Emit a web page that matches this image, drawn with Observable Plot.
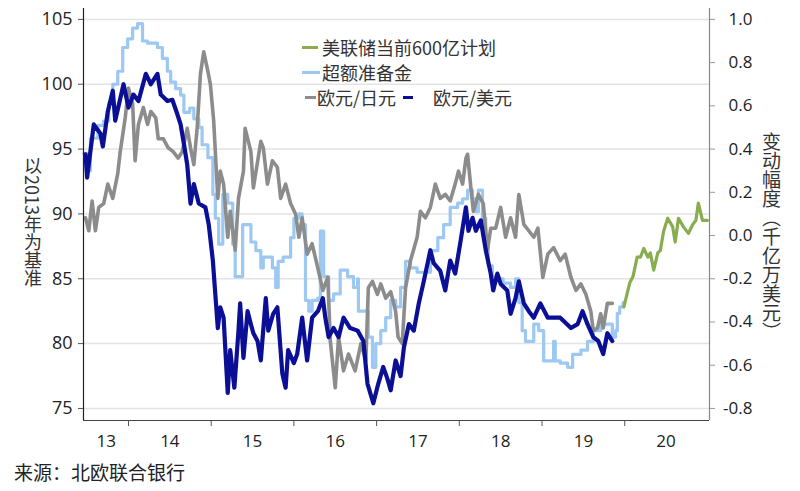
<!DOCTYPE html>
<html><head><meta charset="utf-8">
<script src="https://cdn.jsdelivr.net/npm/d3@7"></script>
<script src="https://cdn.jsdelivr.net/npm/@observablehq/plot@0.6"></script>
<style>
body{margin:0;background:#fff;}
#wrap{position:relative;width:800px;height:491px;overflow:hidden;font-family:"Noto Sans CJK SC",sans-serif;}
.leg{position:absolute;font-size:18px;color:#333;white-space:nowrap;line-height:1;}
.sw{position:absolute;height:3px;}
.vt{position:absolute;writing-mode:vertical-rl;font-size:18px;color:#333;line-height:1;white-space:nowrap;}
.cap{position:absolute;left:14px;top:462px;font-size:19px;color:#222;line-height:1;white-space:nowrap;}
</style></head><body><div id="wrap"></div>
<script>
// EUR/USD index (left axis, 2013 = 100)
const eurusd = [[2013.48,94.6],[2013.50,92.8],[2013.58,96.9],[2013.66,96.2],[2013.69,95.2],[2013.75,97.9],[2013.81,99.5],[2013.84,97.2],[2013.94,100.0],[2014.00,98.2],[2014.06,99.2],[2014.12,98.7],[2014.21,100.8],[2014.27,100.0],[2014.35,100.8],[2014.39,99.2],[2014.47,98.7],[2014.53,98.8],[2014.59,97.7],[2014.63,96.9],[2014.67,95.4],[2014.71,93.8],[2014.75,90.8],[2014.79,92.3],[2014.85,90.8],[2014.93,90.5],[2014.97,89.2],[2015.02,86.4],[2015.05,83.8],[2015.08,81.2],[2015.11,82.8],[2015.15,82.0],[2015.20,76.2],[2015.23,79.5],[2015.28,76.6],[2015.33,81.0],[2015.35,83.1],[2015.39,78.9],[2015.44,82.5],[2015.48,81.5],[2015.51,80.8],[2015.56,80.2],[2015.60,78.7],[2015.66,83.5],[2015.69,81.0],[2015.75,82.3],[2015.80,82.8],[2015.86,77.7],[2015.90,76.6],[2015.93,79.5],[2016.00,78.5],[2016.04,79.2],[2016.10,82.0],[2016.16,78.7],[2016.22,82.0],[2016.29,82.5],[2016.35,83.5],[2016.38,82.0],[2016.42,80.5],[2016.48,81.2],[2016.54,80.5],[2016.60,82.0],[2016.68,81.2],[2016.77,81.0],[2016.84,80.2],[2016.89,76.9],[2016.96,75.4],[2017.02,76.9],[2017.08,78.2],[2017.13,77.3],[2017.17,76.4],[2017.23,78.7],[2017.29,77.5],[2017.33,79.7],[2017.39,81.5],[2017.45,81.0],[2017.51,83.1],[2017.57,84.8],[2017.65,87.2],[2017.69,86.2],[2017.77,85.6],[2017.83,84.1],[2017.89,86.4],[2017.95,85.4],[2018.01,87.7],[2018.08,90.5],[2018.11,88.7],[2018.16,89.7],[2018.20,88.7],[2018.26,89.5],[2018.32,87.2],[2018.38,85.4],[2018.41,84.1],[2018.46,85.4],[2018.50,84.6],[2018.58,84.1],[2018.62,82.3],[2018.68,83.5],[2018.72,84.8],[2018.78,83.1],[2018.84,82.5],[2018.90,82.0],[2018.98,83.1],[2019.07,82.0],[2019.14,82.0],[2019.22,82.0],[2019.35,81.2],[2019.43,81.5],[2019.49,82.5],[2019.55,81.5],[2019.62,80.5],[2019.68,80.2],[2019.74,79.2],[2019.79,80.8],[2019.85,80.2]];

// EUR/JPY index (left axis)
const eurjpy = [[2013.48,89.7],[2013.52,88.7],[2013.56,91.0],[2013.60,88.7],[2013.64,90.5],[2013.70,90.8],[2013.75,92.3],[2013.81,91.2],[2013.87,93.1],[2013.90,94.8],[2013.96,97.4],[2014.00,99.7],[2014.05,98.5],[2014.08,94.1],[2014.12,96.9],[2014.18,98.2],[2014.23,96.9],[2014.27,97.9],[2014.33,97.4],[2014.36,95.8],[2014.42,95.8],[2014.48,95.1],[2014.54,94.8],[2014.60,94.3],[2014.65,94.8],[2014.71,96.6],[2014.75,95.1],[2014.79,93.8],[2014.83,96.6],[2014.87,100.8],[2014.91,102.5],[2014.96,101.0],[2014.99,100.0],[2015.03,97.2],[2015.08,91.2],[2015.11,93.3],[2015.15,92.3],[2015.20,88.2],[2015.23,90.2],[2015.29,87.2],[2015.33,91.2],[2015.39,93.3],[2015.41,96.6],[2015.48,94.8],[2015.51,92.0],[2015.60,95.6],[2015.63,95.1],[2015.68,92.3],[2015.74,94.1],[2015.80,93.6],[2015.84,91.2],[2015.90,92.3],[2015.96,90.8],[2016.02,90.0],[2016.06,88.2],[2016.10,89.7],[2016.16,86.9],[2016.22,87.7],[2016.29,85.8],[2016.35,84.1],[2016.41,85.1],[2016.44,80.2],[2016.50,76.6],[2016.54,80.5],[2016.60,77.9],[2016.66,79.2],[2016.74,77.9],[2016.81,80.0],[2016.87,78.7],[2016.90,84.3],[2016.95,84.8],[2017.01,83.8],[2017.05,84.6],[2017.11,83.5],[2017.17,84.0],[2017.23,82.5],[2017.26,80.5],[2017.31,80.0],[2017.35,84.3],[2017.41,86.4],[2017.49,88.2],[2017.53,90.2],[2017.59,89.7],[2017.65,90.5],[2017.71,92.3],[2017.77,91.2],[2017.83,91.5],[2017.89,91.0],[2017.95,92.3],[2017.99,93.3],[2018.04,92.3],[2018.08,94.3],[2018.10,94.6],[2018.14,92.0],[2018.17,90.2],[2018.23,91.5],[2018.29,90.8],[2018.34,87.2],[2018.38,88.9],[2018.44,88.9],[2018.50,90.5],[2018.56,88.2],[2018.62,89.7],[2018.68,88.2],[2018.72,91.5],[2018.78,89.2],[2018.84,88.7],[2018.90,88.2],[2018.95,88.9],[2019.01,85.1],[2019.07,86.9],[2019.14,87.4],[2019.22,86.4],[2019.28,86.9],[2019.35,85.1],[2019.41,84.1],[2019.47,84.6],[2019.53,83.8],[2019.59,82.5],[2019.62,81.0],[2019.67,81.2],[2019.71,82.3],[2019.74,81.2],[2019.79,83.1],[2019.85,83.1]];

// Excess reserves change (right axis)
const reserves = [[2013.46,0.38],[2013.50,0.30],[2013.54,0.45],[2013.63,0.51],[2013.70,0.53],[2013.76,0.61],[2013.81,0.70],[2013.87,0.76],[2013.93,0.87],[2013.99,0.91],[2014.05,0.96],[2014.11,0.98],[2014.15,0.98],[2014.17,0.90],[2014.23,0.89],[2014.29,0.89],[2014.35,0.87],[2014.41,0.82],[2014.47,0.76],[2014.51,0.71],[2014.57,0.68],[2014.63,0.65],[2014.67,0.57],[2014.74,0.59],[2014.79,0.54],[2014.85,0.50],[2014.89,0.42],[2014.96,0.36],[2015.02,0.19],[2015.05,0.08],[2015.09,-0.04],[2015.14,0.19],[2015.20,0.15],[2015.26,-0.04],[2015.29,-0.19],[2015.33,-0.19],[2015.38,0.05],[2015.44,0.05],[2015.48,-0.03],[2015.54,-0.07],[2015.60,-0.15],[2015.63,-0.10],[2015.69,-0.10],[2015.74,-0.15],[2015.78,-0.24],[2015.81,-0.12],[2015.87,-0.10],[2015.96,-0.01],[2016.00,0.08],[2016.06,0.10],[2016.10,0.05],[2016.14,-0.30],[2016.18,-0.35],[2016.22,-0.30],[2016.29,-0.29],[2016.32,0.02],[2016.36,-0.19],[2016.42,-0.30],[2016.48,-0.27],[2016.56,-0.16],[2016.65,-0.19],[2016.72,-0.24],[2016.77,-0.20],[2016.78,-0.35],[2016.84,-0.35],[2016.90,-0.47],[2016.95,-0.61],[2016.99,-0.50],[2017.05,-0.44],[2017.11,-0.38],[2017.17,-0.30],[2017.23,-0.33],[2017.29,-0.24],[2017.35,-0.12],[2017.41,-0.15],[2017.49,-0.17],[2017.57,-0.17],[2017.65,-0.07],[2017.74,-0.01],[2017.81,0.05],[2017.89,0.13],[2017.98,0.15],[2018.04,0.17],[2018.10,0.21],[2018.16,0.17],[2018.20,0.11],[2018.23,0.21],[2018.28,0.08],[2018.32,-0.04],[2018.35,-0.14],[2018.40,-0.19],[2018.46,-0.20],[2018.53,-0.22],[2018.62,-0.24],[2018.68,-0.20],[2018.72,-0.31],[2018.76,-0.44],[2018.80,-0.49],[2018.86,-0.49],[2018.90,-0.41],[2018.96,-0.44],[2019.02,-0.58],[2019.08,-0.58],[2019.14,-0.49],[2019.16,-0.58],[2019.22,-0.59],[2019.31,-0.61],[2019.37,-0.55],[2019.47,-0.53],[2019.55,-0.49],[2019.62,-0.44],[2019.71,-0.41],[2019.79,-0.41],[2019.85,-0.47],[2019.89,-0.44],[2019.91,-0.36],[2019.94,-0.33],[2019.98,-0.31]];

// Fed current 60bn plan (right axis)
const fedPlan = [[2019.99,-0.33],[2020.06,-0.22],[2020.10,-0.19],[2020.15,-0.10],[2020.19,-0.10],[2020.23,-0.06],[2020.28,-0.10],[2020.31,-0.08],[2020.35,-0.16],[2020.40,-0.08],[2020.43,-0.07],[2020.47,0.02],[2020.52,0.08],[2020.58,0.04],[2020.61,-0.03],[2020.65,0.08],[2020.71,0.04],[2020.77,0.01],[2020.82,0.05],[2020.86,0.07],[2020.89,0.15],[2020.94,0.07],[2021.00,0.07]];

const leftTicks = [75, 80, 85, 90, 95, 100, 105];
const rightTicks = [-0.8, -0.6, -0.4, -0.2, 0.0, 0.2, 0.4, 0.6, 0.8, 1.0];
const rightLabels = ["-0.8", "-0.6", "-0.4", "-0.2", "0.0", "0.2", "0.4", "0.6", "0.8", "1.0"];
const yearBounds = [2014, 2015, 2016, 2017, 2018, 2019, 2020];
const yearLabelPos = [2013.73, 2014.5, 2015.5, 2016.5, 2017.5, 2018.5, 2019.5, 2020.5];
const yearLabels = ["13", "14", "15", "16", "17", "18", "19", "20"];
const legendItems = [
  {label: "美联储当前600亿计划", color: "#88ad4e"},
  {label: "超额准备金", color: "#9cc8f2"},
  {label: "欧元/日元", color: "#8c8c8c"},
  {label: "欧元/美元", color: "#0b0f96"}
];
const leftTitle = "以2013年为基准";
const rightTitle = "变动幅度（千亿万美元）";
const caption = "来源：北欧联合银行";

// right-axis value -> left-axis scale
const toLeft = r => 75 + (r + 0.8) * (30 / 1.8);
const rightPos = rightTicks.map(toLeft);
const X0 = 2013.456, X1 = 2021.025, Y0 = 74.07, Y1 = 105.84;

const plot = Plot.plot({
  width: 800, height: 452,
  marginLeft: 83, marginRight: 91, marginTop: 8, marginBottom: 32,
  x: {domain: [X0, X1]},
  y: {domain: [Y0, Y1]},
  style: {fontFamily: "'Open Sans', sans-serif", color: "#222", background: "#fff"},
  marks: [
    Plot.ruleY(leftTicks, {stroke: "#e3e3e3", strokeWidth: 1.5}),
    Plot.line(reserves, {x: d => d[0], y: d => toLeft(d[1]), stroke: legendItems[1].color, strokeWidth: 3.2, curve: "step-after", strokeLinejoin: "round"}),
    Plot.line(eurjpy, {x: d => d[0], y: d => d[1], stroke: legendItems[2].color, strokeWidth: 3.6, strokeLinejoin: "round"}),
    Plot.line(eurusd, {x: d => d[0], y: d => d[1], stroke: legendItems[3].color, strokeWidth: 4.2, strokeLinejoin: "round"}),
    Plot.line(fedPlan, {x: d => d[0], y: d => toLeft(d[1]), stroke: legendItems[0].color, strokeWidth: 3.2, strokeLinejoin: "round"}),
    Plot.ruleX([X0], {stroke: "#222", strokeWidth: 1.2}),
    Plot.ruleX([X1], {stroke: "#888", strokeWidth: 1.2}),
    Plot.ruleY([Y0], {stroke: "#444", strokeWidth: 1.2}),
    Plot.axisY(leftTicks, {anchor: "left", tickSize: 5, tickPadding: 6, fontSize: 18, label: null, stroke: "#555"}),
    Plot.axisY(rightPos, {anchor: "right", tickSize: 5, tickPadding: 38, textAnchor: "end", fontSize: 17, label: null, stroke: "#999",
      tickFormat: d => rightLabels[rightPos.indexOf(d)]}),
    Plot.axisX(yearBounds, {tickSize: 6, tickFormat: () => "", label: null, stroke: "#555"}),
    Plot.axisX(yearLabelPos, {tickSize: 0, tickPadding: 14, fontSize: 17, label: null,
      tickFormat: d => yearLabels[yearLabelPos.indexOf(d)]})
  ]
});

const wrap = document.getElementById("wrap");
plot.style.position = "absolute";
plot.style.left = "0px";
plot.style.top = "0px";
wrap.appendChild(plot);

function addDiv(cls, text, css) {
  const d = document.createElement("div");
  d.className = cls;
  if (text) d.textContent = text;
  Object.assign(d.style, css);
  wrap.appendChild(d);
  return d;
}
// legend
addDiv("sw", "", {left: "302px", top: "46px", width: "16px", background: legendItems[0].color});
addDiv("leg", legendItems[0].label, {left: "322px", top: "38px"});
addDiv("sw", "", {left: "302px", top: "71px", width: "18px", background: legendItems[1].color});
addDiv("leg", legendItems[1].label, {left: "322px", top: "63px"});
addDiv("sw", "", {left: "305px", top: "96px", width: "11px", background: legendItems[2].color});
addDiv("leg", legendItems[2].label, {left: "317px", top: "88px"});
addDiv("sw", "", {left: "403px", top: "96px", width: "10px", background: legendItems[3].color});
addDiv("leg", legendItems[3].label, {left: "433px", top: "88px"});
// axis titles
addDiv("vt", leftTitle, {left: "24px", top: "157px"});
addDiv("vt", rightTitle, {left: "762px", top: "132px", fontSize: "19px"});
addDiv("cap", caption, {});
</script>
</body></html>
